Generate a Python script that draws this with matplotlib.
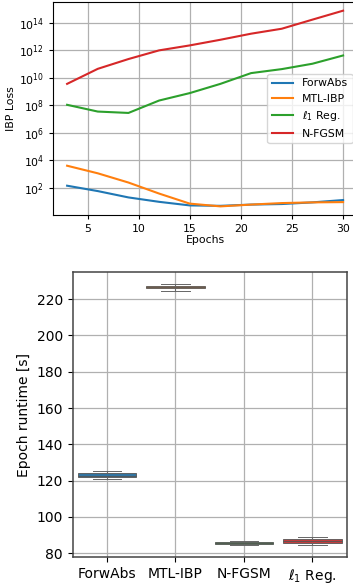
import numpy as np
import matplotlib.pyplot as plt

# top panel: IBP loss over epochs (log10 values)
epochs = [3, 6, 9, 12, 15, 18, 21, 24, 27, 30]
forwabs_log = [2.17, 1.78, 1.32, 1.0, 0.74, 0.71, 0.8, 0.84, 0.96, 1.13]
mtl_ibp_log = [3.62, 3.07, 2.4, 1.6, 0.87, 0.67, 0.8, 0.91, 0.96, 0.98]
l1_reg_log = [8.04, 7.55, 7.45, 8.35, 8.89, 9.56, 10.34, 10.63, 11.02, 11.62]
nfgsm_log = [9.56, 10.65, 11.36, 11.99, 12.35, 12.76, 13.2, 13.56, 14.22, 14.87]

# bottom panel: epoch runtime box stats
methods = ["ForwAbs", "MTL-IBP", "N-FGSM", r"$\ell_1$ Reg."]
q1 = [121.9, 226.2, 85.0, 85.5]
median = [122.8, 226.7, 85.4, 86.5]
q3 = [124.0, 227.2, 86.0, 87.6]
whislo = [121.0, 224.6, 84.5, 84.6]
whishi = [125.5, 228.2, 86.5, 89.0]

fig = plt.figure(figsize=(3.53, 5.86), dpi=100)

ax1 = fig.add_axes([0.151, 0.633, 0.86, 0.3636])
ax1.plot(epochs, 10 ** np.array(forwabs_log), color="#1f77b4", label="ForwAbs")
ax1.plot(epochs, 10 ** np.array(mtl_ibp_log), color="#ff7f0e", label="MTL-IBP")
ax1.plot(epochs, 10 ** np.array(l1_reg_log), color="#2ca02c", label=r"$\ell_1$ Reg.")
ax1.plot(epochs, 10 ** np.array(nfgsm_log), color="#d62728", label="N-FGSM")
ax1.set_yscale("log")
ax1.set_ylim(10 ** 0.04, 10 ** 15.5)
ax1.set_yticks([1e2, 1e4, 1e6, 1e8, 1e10, 1e12, 1e14])
ax1.minorticks_off()
ax1.set_xticks([5, 10, 15, 20, 25, 30])
ax1.grid(True, color="#b0b0b0", linewidth=0.9)
ax1.tick_params(labelsize=7.8, length=3)
ax1.set_xlabel("Epochs", fontsize=7.8, labelpad=1)
ax1.set_ylabel("IBP Loss", fontsize=7.8, labelpad=2)
ax1.legend(loc="center right", fontsize=7.8, handlelength=2.0, borderaxespad=0.4)

ax2 = fig.add_axes([0.206, 0.049, 0.776, 0.487])
box_colors = ["#3274a1", "#e1812c", "#3a923a", "#c03d3e"]
stats = []
for i in range(len(methods)):
    stats.append({"med": median[i], "q1": q1[i], "q3": q3[i],
                  "whislo": whislo[i], "whishi": whishi[i], "fliers": []})
bp = ax2.bxp(stats, positions=range(len(methods)), widths=0.85, patch_artist=True,
             showfliers=False,
             boxprops=dict(edgecolor="#555555", linewidth=0.6),
             medianprops=dict(color="#555555", linewidth=0.6),
             whiskerprops=dict(color="#666666", linewidth=0.7),
             capprops=dict(color="#666666", linewidth=0.7))
for patch, c in zip(bp["boxes"], box_colors):
    patch.set_facecolor(c)
for cap in bp["caps"]:
    x = cap.get_xdata()
    mid = x.mean()
    cap.set_xdata([mid - 0.21, mid + 0.21])
ax2.set_xlim(-0.5, 3.5)
ax2.set_ylim(77.8, 235)
ax2.set_xticks(range(len(methods)))
ax2.set_xticklabels(methods)
ax2.set_yticks([80, 100, 120, 140, 160, 180, 200, 220])
ax2.grid(True, color="#b0b0b0", linewidth=0.9)
ax2.set_axisbelow(True)
ax2.tick_params(labelsize=10)
ax2.set_ylabel("Epoch runtime [s]", fontsize=10)
for s in ax2.spines.values():
    s.set_color("#444444")
    s.set_linewidth(1.1)

fig.savefig("out.png", dpi=100)
